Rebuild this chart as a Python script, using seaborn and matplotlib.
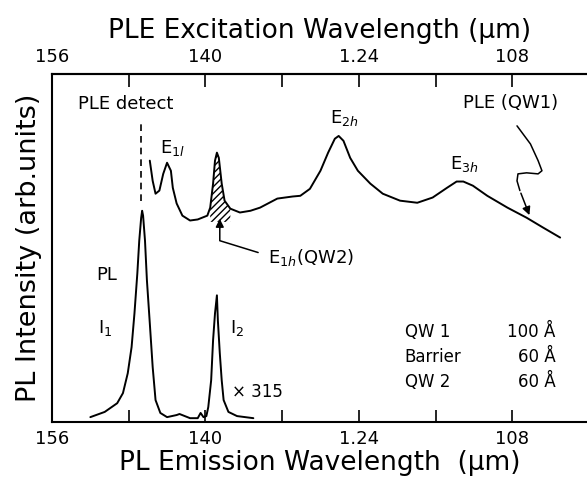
import numpy as np
import pandas as pd
import matplotlib
matplotlib.use("Agg")
import matplotlib.pyplot as plt
import seaborn as sns

# PL emission spectrum (I1, then the x315 I2 part), wavelength in um, intensity arb.
pl_wl = [1.520, 1.505, 1.492, 1.486, 1.481, 1.477, 1.474, 1.471, 1.469, 1.467,
         1.466, 1.465, 1.463, 1.461, 1.458, 1.455, 1.452, 1.447, 1.440, 1.430,
         1.427, 1.416, 1.408, 1.405, 1.402, 1.399, 1.397, 1.394, 1.392, 1.390,
         1.388, 1.387, 1.385, 1.383, 1.381, 1.376, 1.367, 1.350]
pl_int = [0.014, 0.029, 0.054, 0.083, 0.140, 0.215, 0.312, 0.427, 0.521, 0.587,
          0.607, 0.593, 0.521, 0.407, 0.284, 0.158, 0.063, 0.026, 0.014, 0.020,
          0.023, 0.011, 0.011, 0.026, 0.014, 0.017, 0.043, 0.120, 0.235, 0.312,
          0.364, 0.292, 0.198, 0.120, 0.063, 0.029, 0.017, 0.011]

# PLE excitation spectrum (QW1)
ple_wl = [1.458, 1.455, 1.452, 1.448, 1.444, 1.440, 1.436, 1.434, 1.430, 1.424,
          1.416, 1.408, 1.398, 1.395, 1.392, 1.390, 1.388, 1.386, 1.383, 1.380,
          1.374, 1.364, 1.353, 1.343, 1.325, 1.309, 1.301, 1.291, 1.280, 1.272,
          1.265, 1.261, 1.256, 1.249, 1.241, 1.228, 1.215, 1.197, 1.179, 1.163,
          1.148, 1.138, 1.131, 1.121, 1.106, 1.085, 1.065, 1.048, 1.030]
ple_int = [0.751, 0.693, 0.656, 0.665, 0.713, 0.745, 0.722, 0.673, 0.628, 0.593,
           0.579, 0.582, 0.593, 0.616, 0.685, 0.751, 0.774, 0.759, 0.685, 0.636,
           0.613, 0.602, 0.607, 0.616, 0.642, 0.648, 0.650, 0.670, 0.722, 0.774,
           0.814, 0.822, 0.808, 0.759, 0.722, 0.685, 0.656, 0.636, 0.630, 0.645,
           0.673, 0.691, 0.691, 0.679, 0.650, 0.616, 0.587, 0.559, 0.530]

tick_vals = [1.56, 1.48, 1.40, 1.32, 1.24, 1.16, 1.08]
tick_labels = ["156", "", "140", "", "1.24", "", "108"]
detect_wl = 1.467
e1h_range = (1.374, 1.395)
hatch_base = 0.575

pl = pd.DataFrame({"wl": pl_wl, "I": pl_int})
ple = pd.DataFrame({"wl": ple_wl, "I": ple_int})

sns.set_theme(style="ticks")
plt.rcParams["font.family"] = ["DejaVu Sans"]
plt.rcParams["mathtext.fontset"] = "dejavusans"
plt.rcParams["text.color"] = "black"
plt.rcParams["axes.labelcolor"] = "black"
plt.rcParams["xtick.color"] = "black"
plt.rcParams["lines.solid_joinstyle"] = "round"
plt.rcParams["lines.solid_capstyle"] = "round"

fig = plt.figure(figsize=(5.87, 4.80), dpi=100)
ax = fig.add_axes([52 / 587, 58 / 480, 535 / 587, 348 / 480])

sns.lineplot(data=pl, x="wl", y="I", sort=False, color="black", lw=1.4, ax=ax)
sns.lineplot(data=ple, x="wl", y="I", sort=False, color="black", lw=1.4, ax=ax)

# hatched E1h (QW2) peak
m = (ple["wl"] >= e1h_range[0]) & (ple["wl"] <= e1h_range[1])
ax.fill_between(ple["wl"][m], hatch_base, ple["I"][m], facecolor="none",
                edgecolor="black", hatch="/////", lw=0)

# PLE detect dashed line
ax.plot([detect_wl, detect_wl], [0.636, 0.860], color="black", lw=1.2,
        ls=(0, (4, 3)))

ax.set_xlim(1.56, 1.002)
ax.set_ylim(0, 1)
ax.set_xticks(tick_vals)
ax.set_xticklabels(tick_labels)
ax.set_yticks([])
ax.tick_params(axis="x", direction="in", length=9, width=1.2, labelsize=13,
               pad=6)
for s in ["left", "bottom", "top"]:
    ax.spines[s].set_linewidth(1.5)
    ax.spines[s].set_color("black")
ax.spines["right"].set_visible(False)

ax.set_xlabel("PL Emission Wavelength  (µm)", fontsize=19, labelpad=1)
ax.set_ylabel("PL Intensity (arb.units)", fontsize=19.5, labelpad=7)

secax = ax.secondary_xaxis("top")
secax.set_xticks(tick_vals)
secax.set_xticklabels(tick_labels)
secax.tick_params(direction="in", length=9, width=1.2, labelsize=13, pad=6)
secax.spines["top"].set_linewidth(1.5)
secax.set_xlabel("PLE Excitation Wavelength (µm)", fontsize=19, labelpad=7)

fs = 13
ax.text(1.533, 0.914, "PLE detect", fontsize=fs, va="center", ha="left")
ax.text(1.447, 0.788, r"E$_{1l}$", fontsize=fs, va="center", ha="left")
ax.text(1.270, 0.874, r"E$_{2h}$", fontsize=fs, va="center", ha="left")
ax.text(1.145, 0.742, r"E$_{3h}$", fontsize=fs, va="center", ha="left")
ax.text(1.131, 0.917, "PLE (QW1)", fontsize=fs, va="center", ha="left")
ax.text(1.335, 0.473, r"E$_{1h}$(QW2)", fontsize=fs, va="center", ha="left")

# E1h arrow
ax.plot([1.345, 1.385, 1.385], [0.487, 0.521, 0.56], color="black", lw=1.1)
ax.annotate("", xy=(1.385, 0.592), xytext=(1.385, 0.55),
            arrowprops=dict(arrowstyle="-|>", color="black", lw=1.1,
                            mutation_scale=12))

# squiggle arrow from PLE (QW1)
sq_x = [1.075, 1.061, 1.053, 1.049, 1.053, 1.065, 1.074, 1.075, 1.072]
sq_y = [0.851, 0.799, 0.751, 0.722, 0.713, 0.716, 0.713, 0.693, 0.665]
ax.plot(sq_x, sq_y, color="black", lw=1.1)
ax.annotate("", xy=(1.061, 0.587), xytext=(1.072, 0.665),
            arrowprops=dict(arrowstyle="-|>", color="black", lw=1.1,
                            mutation_scale=12))

ax.text(1.503, 0.421, "PL", fontsize=fs, va="center", ha="center")
ax.text(1.505, 0.269, r"I$_1$", fontsize=fs, va="center", ha="center")
ax.text(1.367, 0.269, r"I$_2$", fontsize=fs, va="center", ha="center")
ax.text(1.372, 0.086, "× 315", fontsize=12, va="center", ha="left")

rows = ["QW 1", "Barrier", "QW 2"]
vals = ["100 Å", "60 Å", "60 Å"]
rows_y = [0.258, 0.186, 0.115]
for r, v, yy in zip(rows, vals, rows_y):
    ax.text(1.192, yy, r, fontsize=12, va="center", ha="left")
    ax.text(1.035, yy, v, fontsize=12, va="center", ha="right")

fig.savefig("out.png", dpi=100)
